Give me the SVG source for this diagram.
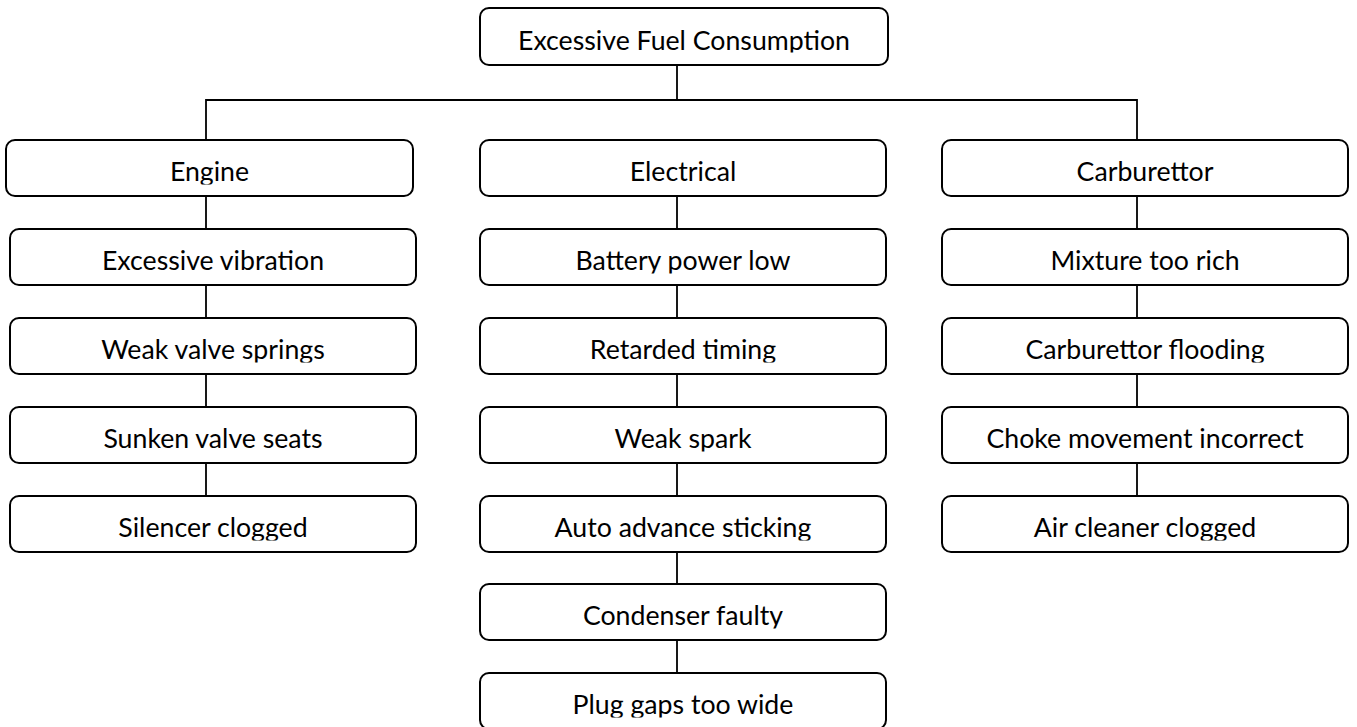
<svg xmlns="http://www.w3.org/2000/svg" width="1357" height="727" viewBox="0 0 1357 727">
<style>
.box{fill:#fff;stroke:#000;stroke-width:2}
.lbl{font-family:"Lato","Liberation Sans",sans-serif;font-size:26.7px;fill:#000;text-anchor:middle}
.con{fill:none;stroke:#000;stroke-width:1.8}
</style>
<defs>
<clipPath id="tc" clipPathUnits="userSpaceOnUse"><rect x="-20" y="-10" width="460" height="54.5"/></clipPath>
</defs>
<rect width="1357" height="727" fill="#fff"/>
<g id="connectors" class="con">
<path d="M677 65V100M206 140V100H1137V140"/>
<path d="M206 196V229M206 285V318M206 374V407M206 463V496"/>
<path d="M677 196V229M677 285V318M677 374V407M677 463V496M677 552V584M677 640V673"/>
<path d="M1137 196V229M1137 285V318M1137 374V407M1137 463V496"/>
</g>
<g id="n-root" transform="translate(480,8)"><rect class="box" width="408" height="57" rx="9"/><text class="lbl" x="204" y="42" clip-path="url(#tc)">Excessive Fuel Consumption</text></g>
<g id="n-engine" transform="translate(6,140)"><rect class="box" width="407" height="56" rx="9"/><text class="lbl" x="203.5" y="40.5" clip-path="url(#tc)">Engine</text></g>
<g id="n-ev" transform="translate(10,229)"><rect class="box" width="406" height="56" rx="9"/><text class="lbl" x="203" y="40.5" clip-path="url(#tc)">Excessive vibration</text></g>
<g id="n-wvs" transform="translate(10,318)"><rect class="box" width="406" height="56" rx="9"/><text class="lbl" x="203" y="40.5" clip-path="url(#tc)">Weak valve springs</text></g>
<g id="n-svs" transform="translate(10,407)"><rect class="box" width="406" height="56" rx="9"/><text class="lbl" x="203" y="40.5" clip-path="url(#tc)">Sunken valve seats</text></g>
<g id="n-sc" transform="translate(10,496)"><rect class="box" width="406" height="56" rx="9"/><text class="lbl" x="203" y="40.5" clip-path="url(#tc)">Silencer clogged</text></g>
<g id="n-elec" transform="translate(480,140)"><rect class="box" width="406" height="56" rx="9"/><text class="lbl" x="203" y="40.5" clip-path="url(#tc)">Electrical</text></g>
<g id="n-bpl" transform="translate(480,229)"><rect class="box" width="406" height="56" rx="9"/><text class="lbl" x="203" y="40.5" clip-path="url(#tc)">Battery power low</text></g>
<g id="n-rt" transform="translate(480,318)"><rect class="box" width="406" height="56" rx="9"/><text class="lbl" x="203" y="40.5" clip-path="url(#tc)">Retarded timing</text></g>
<g id="n-ws" transform="translate(480,407)"><rect class="box" width="406" height="56" rx="9"/><text class="lbl" x="203" y="40.5" clip-path="url(#tc)">Weak spark</text></g>
<g id="n-aas" transform="translate(480,496)"><rect class="box" width="406" height="56" rx="9"/><text class="lbl" x="203" y="40.5" clip-path="url(#tc)">Auto advance sticking</text></g>
<g id="n-cf" transform="translate(480,584)"><rect class="box" width="406" height="56" rx="9"/><text class="lbl" x="203" y="40.5" clip-path="url(#tc)">Condenser faulty</text></g>
<g id="n-pg" transform="translate(480,673)"><rect class="box" width="406" height="56" rx="9"/><text class="lbl" x="203" y="40.5" clip-path="url(#tc)">Plug gaps too wide</text></g>
<g id="n-carb" transform="translate(942,140)"><rect class="box" width="406" height="56" rx="9"/><text class="lbl" x="203" y="40.5" clip-path="url(#tc)">Carburettor</text></g>
<g id="n-mtr" transform="translate(942,229)"><rect class="box" width="406" height="56" rx="9"/><text class="lbl" x="203" y="40.5" clip-path="url(#tc)">Mixture too rich</text></g>
<g id="n-cfl" transform="translate(942,318)"><rect class="box" width="406" height="56" rx="9"/><text class="lbl" x="203" y="40.5" clip-path="url(#tc)">Carburettor flooding</text></g>
<g id="n-cmi" transform="translate(942,407)"><rect class="box" width="406" height="56" rx="9"/><text class="lbl" x="203" y="40.5" clip-path="url(#tc)">Choke movement incorrect</text></g>
<g id="n-acc" transform="translate(942,496)"><rect class="box" width="406" height="56" rx="9"/><text class="lbl" x="203" y="40.5" clip-path="url(#tc)">Air cleaner clogged</text></g>
</svg>
